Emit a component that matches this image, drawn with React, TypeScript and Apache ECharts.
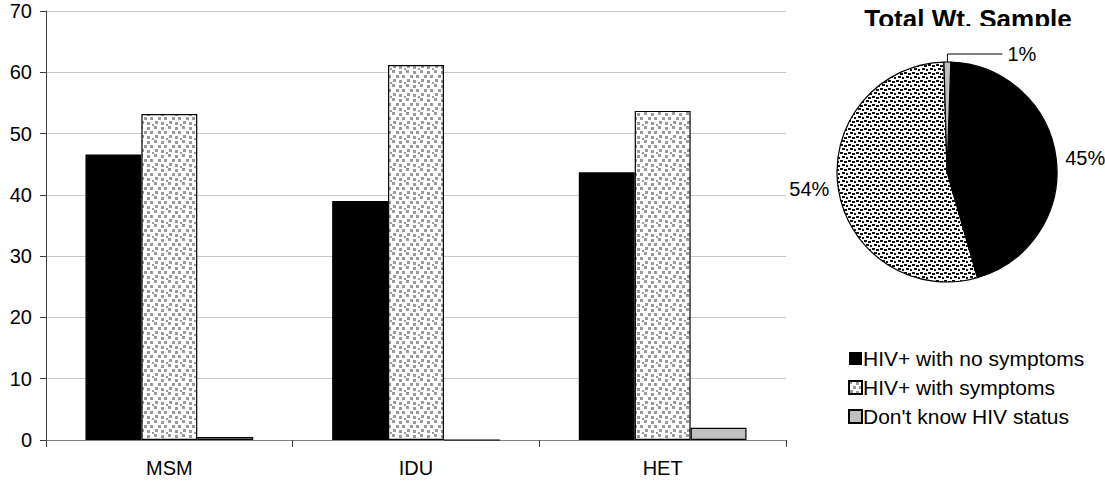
import React, { useEffect, useRef } from "react";
import * as echarts from "echarts";

const categories = ["MSM", "IDU", "HET"];
const seriesNames = ["HIV+ with no symptoms", "HIV+ with symptoms", "Don't know HIV status"];
const noSymptoms = [46.6, 39.0, 43.7];
const withSymptoms = [53.2, 61.2, 53.7];
const dontKnow = [0.5, 0, 2.0];
const pieValues = [45, 54, 1];
const yTicks = { min: 0, max: 70, interval: 10 };

const FONT = "Liberation Sans, Arial, sans-serif";

function makePattern(size: number, dots: number[][], w: number, h: number, color: string) {
  const c = document.createElement("canvas");
  c.width = size;
  c.height = size;
  const ctx = c.getContext("2d")!;
  ctx.fillStyle = "#ffffff";
  ctx.fillRect(0, 0, size, size);
  ctx.fillStyle = color;
  dots.forEach(([x, y]) => ctx.fillRect(x, y, w, h));
  return c;
}

export default function App() {
  const ref = useRef<HTMLDivElement>(null);
  useEffect(() => {
    document.body.style.margin = "0";
    const barCanvas = makePattern(
      14,
      [[0, 0], [7, 1], [4, 5], [10, 5], [1, 9], [7, 10], [12, 12]],
      3,
      3,
      "#9a9a9a"
    );
    const pieCanvas = makePattern(
      8,
      [[0, 0], [4, 1], [2, 4], [6, 5]],
      3,
      2,
      "#111111"
    );
    const barPattern: any = { image: barCanvas, repeat: "repeat", imageWidth: 14, imageHeight: 14 };
    const piePattern: any = { image: pieCanvas, repeat: "repeat", imageWidth: 8, imageHeight: 8 };

    const chart = echarts.init(ref.current!, null, { renderer: "svg" });
    const colors = ["#000000", barPattern, "#c0c0c0"];
    const barData = [noSymptoms, withSymptoms, dontKnow];
    chart.setOption({
      animation: false,
      textStyle: { fontFamily: FONT },
      title: {
        text: "Total Wt. Sample",
        left: 963,
        top: 1,
        textAlign: "center",
        textStyle: { fontFamily: FONT, fontSize: 26, fontWeight: "bold", color: "#000" },
      },
      graphic: [
        {
          type: "rect",
          left: 845,
          top: 26,
          shape: { width: 235, height: 10 },
          style: { fill: "#ffffff" },
          z: 100,
        },
      ],
      legend: {
        data: seriesNames,
        orient: "vertical",
        left: 843,
        top: 343,
        itemWidth: 13,
        itemHeight: 13,
        itemGap: 8,
        icon: "rect",
        textStyle: { fontFamily: FONT, fontSize: 21, color: "#000", padding: [0, 0, 0, -4] },
      },
      grid: { left: 46, right: 319, top: 11, bottom: 51, containLabel: false },
      xAxis: {
        type: "category",
        data: categories,
        axisLine: { lineStyle: { color: "#808080", width: 1 } },
        axisTick: { show: true, length: 7, lineStyle: { color: "#404040" } },
        axisLabel: { fontFamily: FONT, fontSize: 20, color: "#000", margin: 18 },
      },
      yAxis: {
        type: "value",
        min: yTicks.min,
        max: yTicks.max,
        interval: yTicks.interval,
        axisLine: { show: true, lineStyle: { color: "#404040" } },
        axisTick: { show: true, length: 6, lineStyle: { color: "#404040" } },
        axisLabel: { fontFamily: FONT, fontSize: 20, color: "#000", margin: 14 },
        splitLine: { lineStyle: { color: "#c8c8c8" } },
      },
      series: [
        ...seriesNames.map((name, i) => ({
          type: "bar",
          name,
          data: barData[i],
          barGap: "0%",
          barCategoryGap: "32%",
          itemStyle: {
            color: colors[i],
            borderColor: "#000",
            borderWidth: i === 0 ? 0 : 1.2,
          },
        })),
        {
          type: "pie",
          center: [947, 172],
          radius: 110,
          startAngle: 88,
          clockwise: true,
          data: seriesNames.map((name, i) => ({
            name,
            value: pieValues[i],
            itemStyle: { color: i === 1 ? piePattern : colors[i] },
            labelLine:
              i === 2
                ? { show: true, length: 8, length2: 55, lineStyle: { color: "#000", width: 1 } }
                : { show: false, length: 4, length2: 0 },
          })),
          itemStyle: { borderColor: "#000", borderWidth: 1.2 },
          label: {
            show: true,
            position: "outside",
            formatter: "{c}%",
            fontFamily: FONT,
            fontSize: 20,
            color: "#000",
            overflow: "none",
          },
        },
      ],
    });
    return () => chart.dispose();
  }, []);
  return <div ref={ref} style={{ width: 1105, height: 491 }} />;
}
